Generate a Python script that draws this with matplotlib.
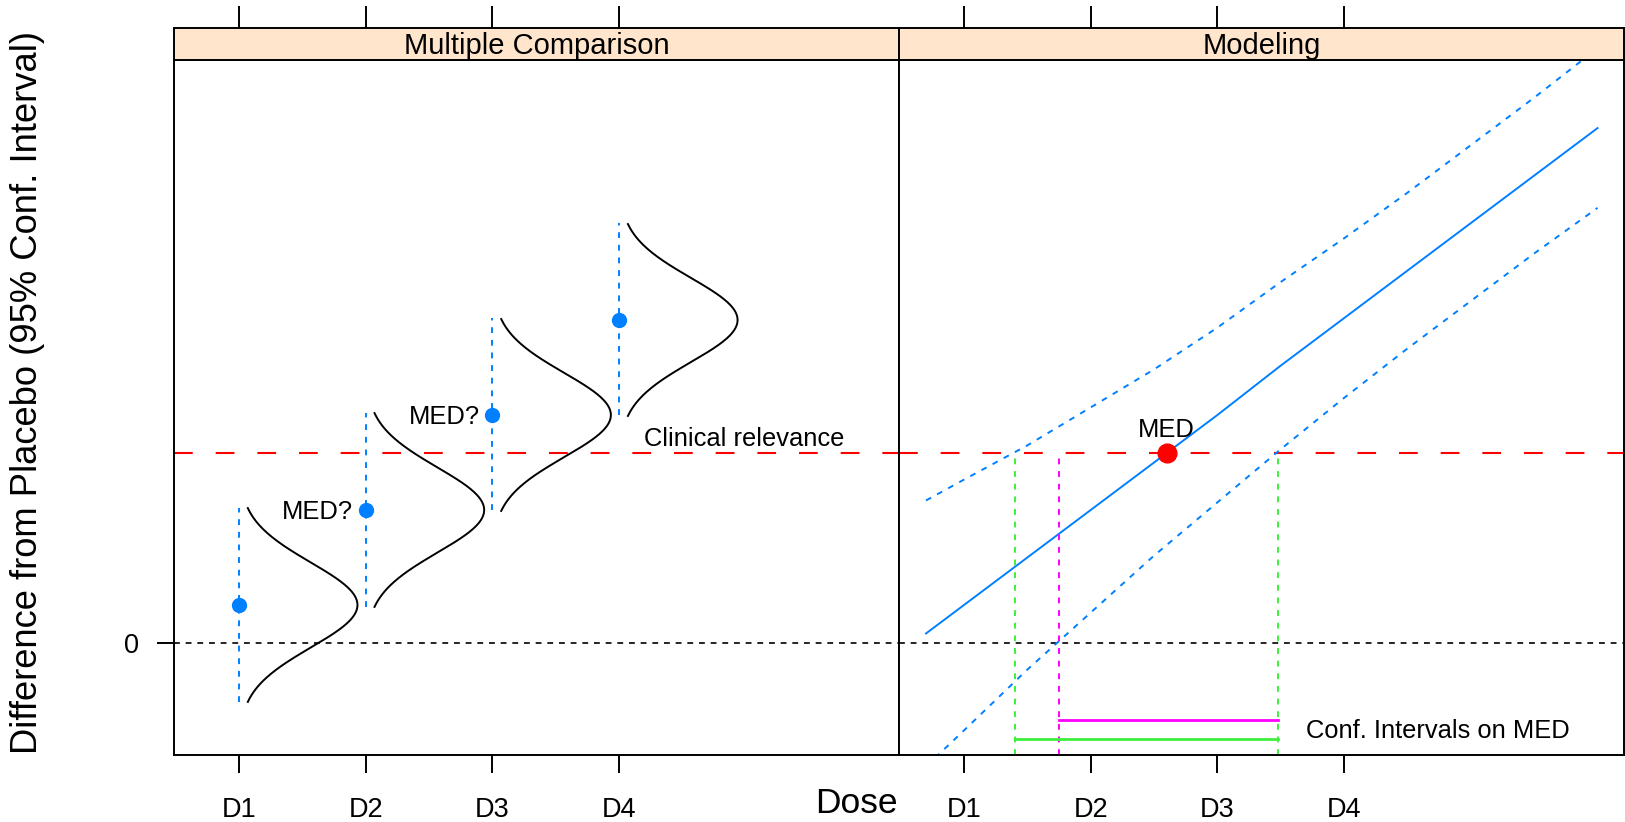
import numpy as np
import matplotlib.pyplot as plt

plt.rcParams['font.family'] = ['Liberation Sans', 'DejaVu Sans']

# dose levels (shared x axis of both panels)
doses = [1, 2, 3, 4]
dose_labels = ['D1', 'D2', 'D3', 'D4']

# multiple comparison panel: estimate and 95% CI per dose
mc_est = [0.20, 0.70, 1.20, 1.70]
mc_lower = [-0.31, 0.19, 0.70, 1.20]
mc_upper = [0.71, 1.21, 1.71, 2.21]
med_question = [2, 3]          # doses marked "MED?"

clin_rel = 1.0                 # clinical relevance threshold

# modeling panel: fitted dose-response curve and its 95% band
grid = [0.7, 1.0, 1.5, 2.0, 2.5, 3.0, 3.5, 4.0, 4.5, 5.0, 5.5, 6.0]
fit = [0.05, 0.20, 0.45, 0.70, 0.95, 1.20, 1.46, 1.71, 1.96, 2.21, 2.46, 2.71]
fit_upper = [0.75, 0.86, 1.04, 1.24, 1.44, 1.66, 1.90, 2.13, 2.37, 2.62, 2.87, 3.13]
fit_lower = [-0.65, -0.46, -0.14, 0.16, 0.46, 0.74, 1.02, 1.29, 1.55, 1.80, 2.05, 2.29]

med = 2.6
med_ci_1 = [1.40, 3.48]        # green interval
med_ci_2 = [1.75, 3.48]        # magenta interval
med_ci_1_y = -0.505
med_ci_2_y = -0.405

blue = '#0080ff'
green = '#3cf03c'
magenta = '#ff00ff'
strip_bg = '#ffe5cc'

xlim = (0.487, 6.209)
ylim = (-0.5895, 3.0684)
lw = 1.4

fig = plt.figure(figsize=(16.25, 8.22), dpi=100)

W, H = 1625, 822
def frac(x0, y_top, w, h):
    return [x0 / W, 1 - (y_top + h) / H, w / W, h / H]

panels = []
for i, title in enumerate(['Multiple Comparison', 'Modeling']):
    x0 = 174 + i * 725
    ax = fig.add_axes(frac(x0, 60, 725, 695))
    st = fig.add_axes(frac(x0, 28, 725, 32))
    for a in (ax, st):
        a.set_xlim(xlim)
        for s in a.spines.values():
            s.set_linewidth(lw)
    ax.set_ylim(ylim)
    ax.set_xticks(doses)
    ax.set_xticklabels([])
    ax.tick_params(axis='x', direction='out', length=13, width=lw)
    # tick labels placed a fixed distance below the panel
    for d, lab in zip(doses, dose_labels):
        ax.text(d, -(810 - 755) / 695, lab, transform=ax.get_xaxis_transform(),
                ha='center', va='center', fontsize=19.5)
    if i == 0:
        ax.set_yticks([0])
        ax.set_yticklabels(['0'], fontsize=19.5)
        ax.tick_params(axis='y', direction='out', length=12, width=lw, pad=13)
    else:
        ax.set_yticks([])
    st.set_facecolor(strip_bg)
    st.set_ylim(0, 1)
    st.set_yticks([])
    st.set_xticks(doses)
    st.tick_params(axis='x', bottom=False, labelbottom=False, top=True,
                   direction='out', length=16, width=lw)
    st.text(0.5, 0.45, title, transform=st.transAxes, ha='center',
            va='center', fontsize=21)
    ax.axhline(0, color='black', lw=1.2, dashes=(3.5, 3.5))
    ax.axhline(clin_rel, color='red', lw=1.5, dashes=(9, 11))
    panels.append(ax)

ax1, ax2 = panels

# left panel: CIs, estimates and normal densities
for d, m, lo, up in zip(doses, mc_est, mc_lower, mc_upper):
    ax1.plot([d, d], [lo, up], color=blue, lw=lw, dashes=(3, 3.5))
    ax1.plot(d, m, 'o', color=blue, ms=10, mec=blue)
    z = np.linspace(-2.28, 2.28, 200)
    half = (up - lo) / 2
    ax1.plot(d + 0.935 * np.exp(-z ** 2 / 2), m + z * half / 2.28,
             color='black', lw=lw)

for d in med_question:
    ax1.annotate('MED?', (d, mc_est[doses.index(d)]), xytext=(-9, 0),
                 textcoords='offset points', ha='right',
                 va='center_baseline', fontsize=18.4)

ax1.text(4.2, clin_rel + 0.037, 'Clinical relevance', ha='left',
         va='baseline', fontsize=18.4)

# right panel: fitted model and band
ax2.plot(grid, fit, color=blue, lw=lw)
ax2.plot(grid, fit_upper, color=blue, lw=lw, dashes=(3, 3.5))
ax2.plot(grid, fit_lower, color=blue, lw=lw, dashes=(3, 3.5))

for x in med_ci_1:
    ax2.plot([x, x], [ylim[0], clin_rel], color=green, lw=lw, dashes=(3, 3.5))
ax2.plot([med_ci_2[0]] * 2, [ylim[0], clin_rel], color=magenta, lw=lw,
         dashes=(3, 3.5))
ax2.plot(med_ci_1, [med_ci_1_y] * 2, color=green, lw=2)
ax2.plot(med_ci_2, [med_ci_2_y] * 2, color=magenta, lw=2)

ax2.plot(med, clin_rel, 'o', color='red', ms=13.5, mec='red', zorder=5)
ax2.annotate('MED', (med, clin_rel), xytext=(0, 11.5),
             textcoords='offset points', ha='center', va='baseline',
             fontsize=18.4)
ax2.text(3.7, med_ci_1_y + 0.055, 'Conf. Intervals on MED', ha='left',
         va='center_baseline', fontsize=18.4)

fig.text(28 / W, 1 - 393 / H, 'Difference from Placebo (95% Conf. Interval)',
         rotation=90, ha='center', va='center', fontsize=26.2)
fig.text(898 / W, 1 - 803 / H, 'Dose', ha='right', va='center',
         fontsize=25.5)

fig.savefig('out.png', dpi=100)
